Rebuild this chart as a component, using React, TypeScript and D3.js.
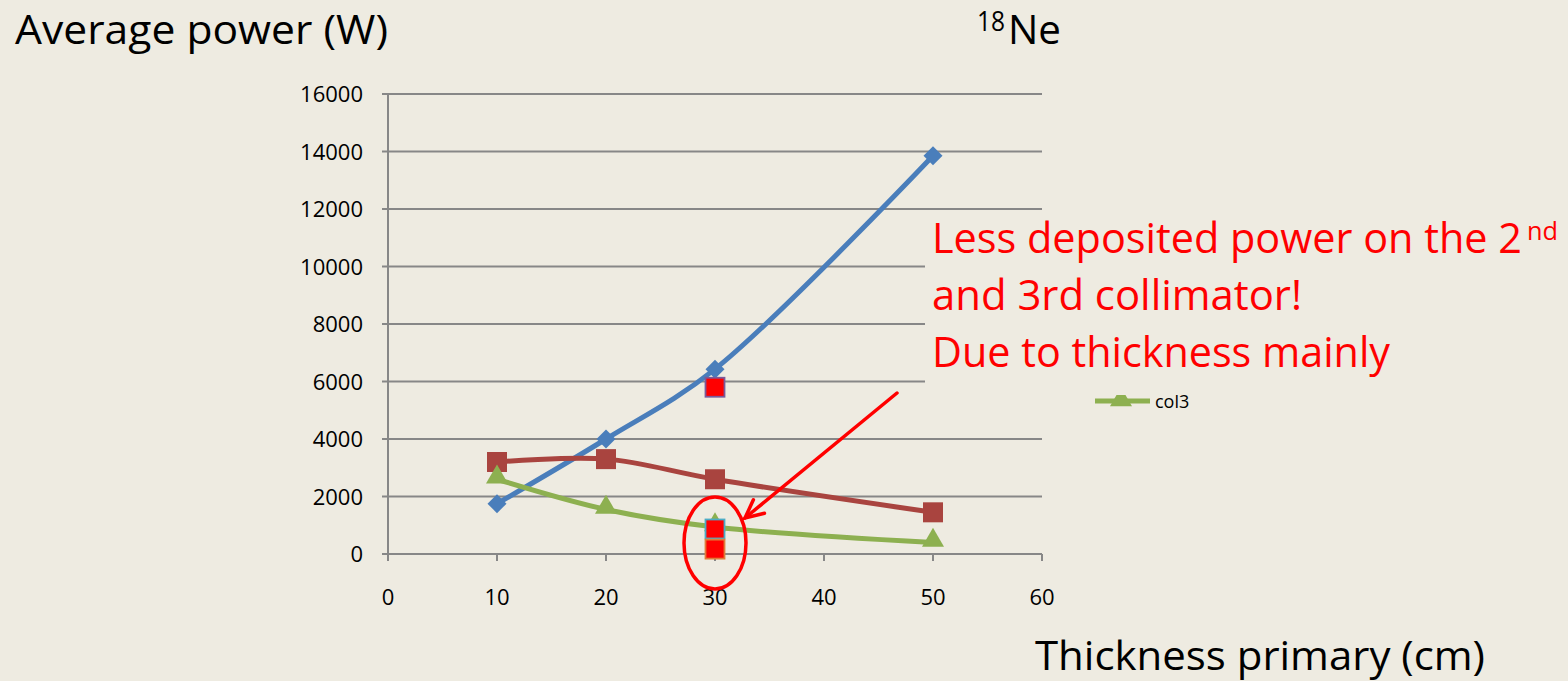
import React from "react";
import * as d3 from "d3";

// Average power per collimator versus primary thickness (18Ne)
const thickness = [10, 20, 30, 50];
const col1 = [1750, 4000, 6430, 13850];
const col2 = [3200, 3300, 2600, 1450];
const col3 = [2600, 1550, 940, 400];

// Thinner-configuration points at 30 cm
const extraX = [30, 30, 30];
const extraY = [5800, 870, 170];
const extraStroke = ["#7A5A9A", "#4BACC6", "#E07B39"];

const xTicks = [0, 10, 20, 30, 40, 50, 60];
const yTicks = [0, 2000, 4000, 6000, 8000, 10000, 12000, 14000, 16000];

const W = 1568;
const H = 681;
const BG = "#EEEBE1";
const BLUE = "#4A7EBB";
const RED = "#A9443F";
const GREEN = "#8DB050";
const GRID = "#878787";
const FONT = "'Open Sans', sans-serif";

export default function App() {
  const x = d3.scaleLinear().domain([0, 60]).range([388, 1042]);
  const y = d3.scaleLinear().domain([0, 16000]).range([554, 94]);
  const line = (vals: number[]) =>
    d3
      .line<number>()
      .x((_, i) => x(thickness[i]))
      .y((v) => y(v))
      .curve(d3.curveCatmullRom.alpha(0.5))(vals) || "";

  const diamond = d3.symbol().type(d3.symbolDiamond2).size(230)();
  const triangle = d3.symbol().type(d3.symbolTriangle).size(210)();

  const ex = x(30);
  // annotation arrow with an open head
  const a0: [number, number] = [897, 393];
  const a1: [number, number] = [745, 518];
  const ang = Math.atan2(a1[1] - a0[1], a1[0] - a0[0]);
  const headLen = 20;
  const headSpread = 0.45;
  const h1: [number, number] = [
    a1[0] - headLen * Math.cos(ang - headSpread),
    a1[1] - headLen * Math.sin(ang - headSpread),
  ];
  const h2: [number, number] = [
    a1[0] - headLen * Math.cos(ang + headSpread),
    a1[1] - headLen * Math.sin(ang + headSpread),
  ];

  return (
    <svg
      width={W}
      height={H}
      style={{ position: "absolute", left: 0, top: 0, background: BG }}
    >
      <rect width={W} height={H} fill={BG} />

      {/* legend entry */}
      <line x1={1095} x2={1150} y1={401} y2={401} stroke={GREEN} strokeWidth={5} />
      <path d={triangle} transform={`translate(1121,400)`} fill={GREEN} />
      <text x={1155} y={408} fontFamily={FONT} fontSize={18} fill="#000">
        col3
      </text>

      {/* gridlines and axes */}
      {yTicks.map((t) => (
        <line
          key={t}
          x1={382}
          x2={1042}
          y1={y(t)}
          y2={y(t)}
          stroke={GRID}
          strokeWidth={2}
        />
      ))}
      <line x1={388} x2={388} y1={93} y2={555} stroke={GRID} strokeWidth={2} />
      {xTicks.map((t) => (
        <line
          key={t}
          x1={x(t)}
          x2={x(t)}
          y1={554}
          y2={561}
          stroke={GRID}
          strokeWidth={2}
        />
      ))}

      {yTicks.map((t) => (
        <text
          key={t}
          x={363}
          y={y(t) + 8}
          textAnchor="end"
          fontFamily={FONT}
          fontSize={22}
          fill="#000"
        >
          {t}
        </text>
      ))}
      {xTicks.map((t) => (
        <text
          key={t}
          x={x(t)}
          y={605}
          textAnchor="middle"
          fontFamily={FONT}
          fontSize={22}
          fill="#000"
        >
          {t}
        </text>
      ))}

      {/* series lines */}
      <path d={line(col1)} fill="none" stroke={BLUE} strokeWidth={5} />
      <path d={line(col2)} fill="none" stroke={RED} strokeWidth={5} />
      <path d={line(col3)} fill="none" stroke={GREEN} strokeWidth={5} />

      {col1.map((v, i) => (
        <path key={i} d={diamond} transform={`translate(${x(thickness[i])},${y(v)})`} fill={BLUE} />
      ))}
      {col2.map((v, i) => (
        <rect
          key={i}
          x={x(thickness[i]) - 10}
          y={y(v) - 10}
          width={20}
          height={20}
          fill={RED}
        />
      ))}
      {col3.map((v, i) => (
        <path key={i} d={triangle} transform={`translate(${x(thickness[i])},${y(v) - 2})`} fill={GREEN} />
      ))}

      {extraY.map((v, i) => (
        <rect
          key={i}
          x={x(extraX[i]) - 9.5}
          y={y(v) - 9.5}
          width={19}
          height={19}
          fill="#FF0000"
          stroke={extraStroke[i]}
          strokeWidth={1.8}
        />
      ))}

      {/* annotation */}
      <rect x={925} y={212} width={643} height={183} fill={BG} />
      <g fontFamily={FONT} fontSize={42} fill="#FF0000">
        <text x={932} y={253} textLength={590} lengthAdjust="spacingAndGlyphs">
          Less deposited power on the 2
        </text>
        <text x={1527} y={240} fontSize={26} textLength={31} lengthAdjust="spacingAndGlyphs">
          nd
        </text>
        <text x={932} y={310} textLength={370} lengthAdjust="spacingAndGlyphs">
          and 3rd collimator!
        </text>
        <text x={932} y={367} textLength={458} lengthAdjust="spacingAndGlyphs">
          Due to thickness mainly
        </text>
      </g>
      <g stroke="red" strokeWidth={3.5} fill="none" strokeLinecap="round">
        <line x1={a0[0]} y1={a0[1]} x2={a1[0]} y2={a1[1]} />
        <polyline points={`${h1[0]},${h1[1]} ${a1[0]},${a1[1]} ${h2[0]},${h2[1]}`} />
      </g>
      <ellipse cx={ex} cy={543} rx={31} ry={46} fill="none" stroke="red" strokeWidth={3.5} />

      {/* titles */}
      <text
        x={15}
        y={44}
        fontFamily={FONT}
        fontSize={41}
        fill="#000"
        textLength={373}
        lengthAdjust="spacingAndGlyphs"
      >
        Average power (W)
      </text>
      <text x={977} y={31} fontFamily={FONT} fontSize={27} fill="#000" textLength={28} lengthAdjust="spacingAndGlyphs">
        18
      </text>
      <text x={1008} y={44} fontFamily={FONT} fontSize={41} fill="#000" textLength={53} lengthAdjust="spacingAndGlyphs">
        Ne
      </text>
      <text
        x={1035}
        y={670}
        fontFamily={FONT}
        fontSize={40}
        fill="#000"
        textLength={450}
        lengthAdjust="spacingAndGlyphs"
      >
        Thickness primary (cm)
      </text>
    </svg>
  );
}
